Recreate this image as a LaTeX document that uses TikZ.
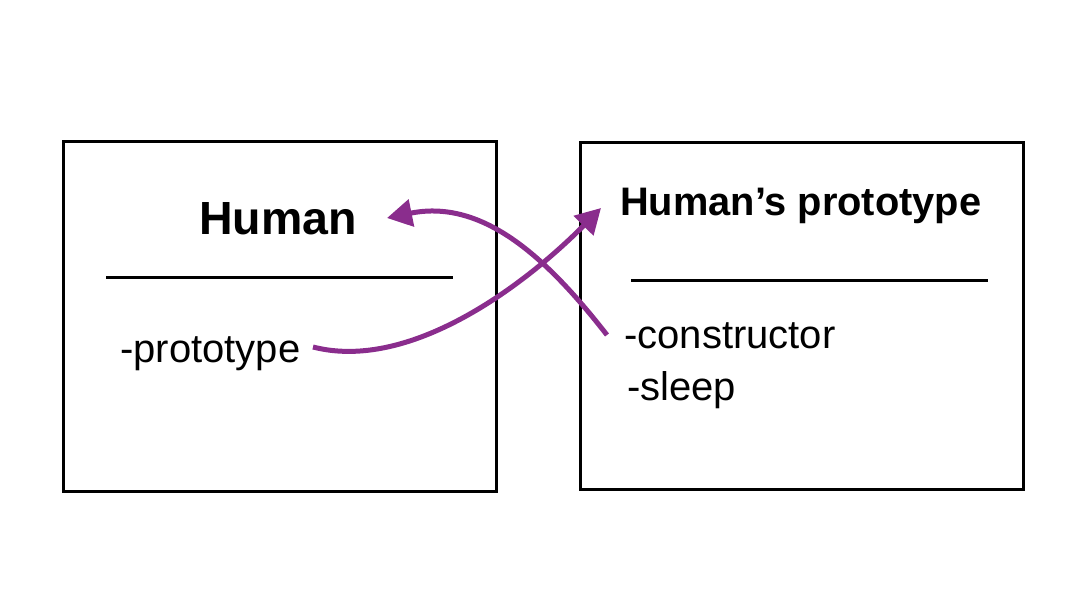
\documentclass[tikz,border=0pt]{standalone}
\usepackage{fontspec}
\setmainfont{Liberation Sans}
\usetikzlibrary{arrows.meta}
\definecolor{arrowpurple}{HTML}{8A2D8D}
\begin{document}
\begin{tikzpicture}[x=1pt,y=-1pt,
  classbox/.style={draw=black,line width=3pt,inner sep=0pt},
  divider/.style={line width=3pt},
  label/.style={inner sep=0pt,anchor=base west,font=\fontsize{40}{48}\selectfont},
  link/.style={draw=arrowpurple,line width=5pt,-{Triangle[length=25pt,width=27pt]}}]
\useasboundingbox (0,0) rectangle (1074,589);
% boxes
\node[classbox,minimum width=433pt,minimum height=350pt] (humanbox) at (279.5,316) {};
\node[classbox,minimum width=443pt,minimum height=347pt] (protobox) at (801.5,315.5) {};
% titles
\node[inner sep=0pt,anchor=base,font=\fontsize{46.5}{54}\selectfont\bfseries] (human) at (278,234) {Human};
\node[inner sep=0pt,anchor=base west,font=\fontsize{39.8}{46}\selectfont\bfseries] (hp) at (620,215) {Human’s prototype};
% dividers
\coordinate (hl1) at (106,277); \coordinate (hl2) at (453,277);
\coordinate (pl1) at (631,280); \coordinate (pl2) at (988,280);
\draw[divider] (hl1) -- (hl2);
\draw[divider] (pl1) -- (pl2);
% members
\node[label] (proto) at (120,362) {-prototype};
\node[label] (ctor) at (624,348) {-constructor};
\node[label] (sleep) at (627,400) {-sleep};
% arrow ends
\coordinate (a1s) at (313,347);
\coordinate (a1e) at (601,208);
\coordinate (a2s) at (607,335);
\coordinate (a2e) at (387,218);
\draw[link] (a1s) .. controls (410,372) and (525,285) .. (a1e);
\draw[link] (a2s) .. controls (550,262) and (485,198) .. (a2e);
\end{tikzpicture}
\end{document}
